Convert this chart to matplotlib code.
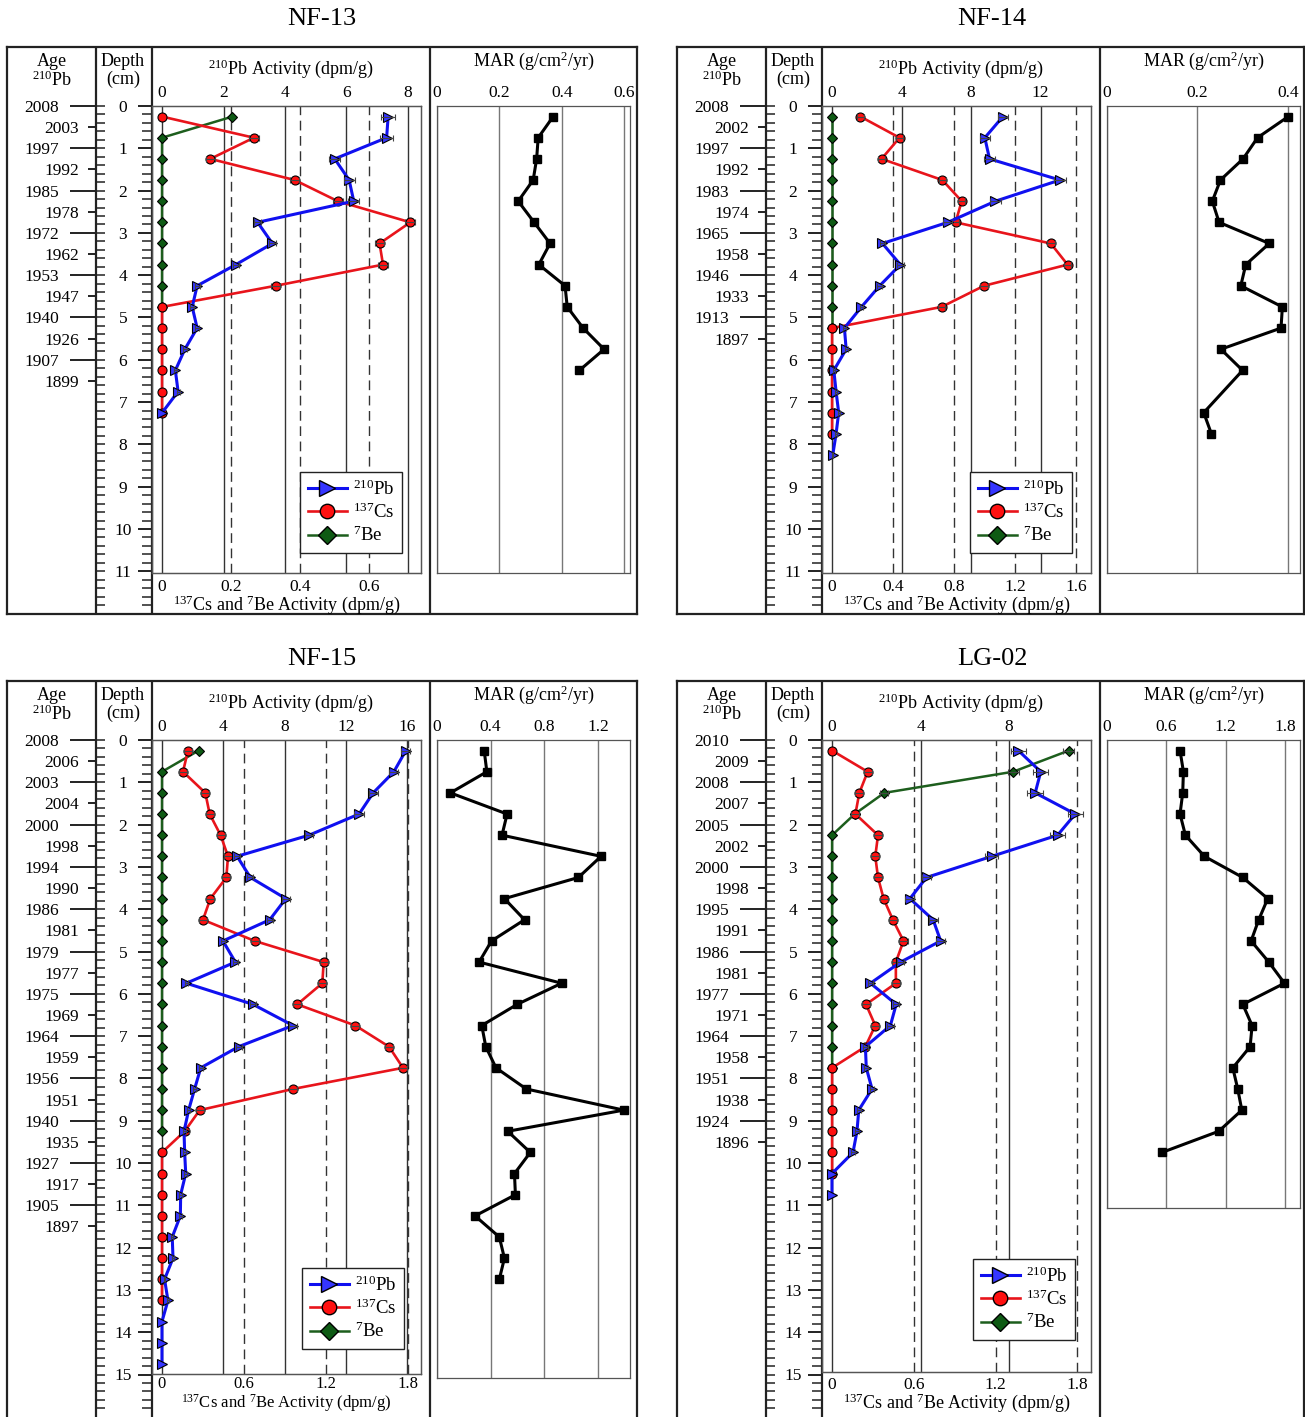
import matplotlib
matplotlib.use('Agg')
import matplotlib.pyplot as plt
from matplotlib.ticker import FixedLocator, FixedFormatter, MultipleLocator, NullFormatter
from matplotlib.lines import Line2D
from matplotlib.transforms import blended_transform_factory

plt.rcParams.update({
    'font.family': ['Liberation Serif', 'DejaVu Serif'],
    'mathtext.fontset': 'custom',
    'mathtext.rm': 'Liberation Serif',
    'mathtext.it': 'Liberation Serif:italic',
    'mathtext.bf': 'Liberation Serif:bold',
})

# ---------------------------------------------------------------- data
# NF-13
AGES_NF13 = ['2008', '2003', '1997', '1992', '1985', '1978', '1972', '1962',
             '1953', '1947', '1940', '1926', '1907', '1899']
DEPTH_NF13 = [0.25, 0.75, 1.25, 1.75, 2.25, 2.75, 3.25, 3.75, 4.25, 4.75,
              5.25, 5.75, 6.25, 6.75, 7.25]
PB_NF13 = [7.36, 7.31, 5.62, 6.09, 6.24, 3.11, 3.59, 2.40, 1.14, 0.98,
           1.14, 0.74, 0.43, 0.52, 0.00]
PB_ERR_NF13 = [0.22, 0.22, 0.18, 0.18, 0.18, 0.12, 0.12, 0.10, 0.08, 0.07,
               0.07, 0.06, 0.05, 0.05, 0.00]
CS_NF13 = [0.000, 0.266, 0.140, 0.384, 0.509, 0.719, 0.630, 0.640, 0.329, 0.000,
           0.000, 0.000, 0.000, 0.000, 0.000]
CS_ERR_NF13 = [0, 0.014, 0.014, 0.014, 0.014, 0.014, 0.014, 0.014, 0.014, 0,
               0, 0, 0, 0, 0]
DEPTH_BE_NF13 = [0.25, 0.75, 1.25, 1.75, 2.25, 2.75, 3.25, 3.75, 4.25, 4.75]
BE_NF13 = [0.204, 0, 0, 0, 0, 0, 0, 0, 0, 0]
DEPTH_MAR_NF13 = [0.25, 0.75, 1.25, 1.75, 2.25, 2.75, 3.25, 3.75, 4.25, 4.75,
                  5.25, 5.75, 6.25]
MAR_NF13 = [0.372, 0.324, 0.319, 0.308, 0.260, 0.311, 0.362, 0.326, 0.410, 0.417,
            0.468, 0.535, 0.456]

# NF-14
AGES_NF14 = ['2008', '2002', '1997', '1992', '1983', '1974', '1965', '1958',
             '1946', '1933', '1913', '1897']
DEPTH_PB_NF14 = [0.25, 0.75, 1.25, 1.75, 2.25, 2.75, 3.25, 3.75, 4.25, 4.75,
                 5.25, 5.75, 6.25, 6.75, 7.25, 7.75, 8.25]
PB_NF14 = [9.83, 8.79, 9.06, 13.11, 9.40, 6.66, 2.90, 3.93, 2.74, 1.69,
           0.71, 0.81, 0.10, 0.23, 0.38, 0.23, 0.04]
PB_ERR_NF14 = [0.30, 0.30, 0.30, 0.35, 0.30, 0.25, 0.15, 0.20, 0.15, 0.10,
               0.08, 0.08, 0.05, 0.05, 0.05, 0.05, 0.03]
DEPTH_CS_NF14 = [0.25, 0.75, 1.25, 1.75, 2.25, 2.75, 3.25, 3.75, 4.25, 4.75,
                 5.25, 5.75, 6.25, 6.75, 7.25, 7.75]
CS_NF14 = [0.186, 0.443, 0.325, 0.724, 0.851, 0.811, 1.436, 1.546, 0.998, 0.719,
           0, 0, 0, 0, 0, 0]
CS_ERR_NF14 = [0.025, 0.025, 0.025, 0.025, 0.025, 0.025, 0.025, 0.025, 0.025, 0.025,
               0, 0, 0, 0, 0, 0]
DEPTH_BE_NF14 = [0.25, 0.75, 1.25, 1.75, 2.25, 2.75, 3.25, 3.75, 4.25, 4.75, 5.25]
BE_NF14 = [0, 0, 0, 0, 0, 0, 0, 0, 0, 0, 0]
DEPTH_MAR_NF14 = [0.25, 0.75, 1.25, 1.75, 2.25, 2.75, 3.25, 3.75, 4.25, 4.75,
                  5.25, 5.75, 6.25, 7.25, 7.75]
MAR_NF14 = [0.401, 0.333, 0.301, 0.251, 0.233, 0.248, 0.359, 0.307, 0.296, 0.388,
            0.385, 0.252, 0.300, 0.214, 0.231]

# NF-15
AGES_NF15 = ['2008', '2006', '2003', '2004', '2000', '1998', '1994', '1990',
             '1986', '1981', '1979', '1977', '1975', '1969', '1964', '1959',
             '1956', '1951', '1940', '1935', '1927', '1917', '1905', '1897']
DEPTH_PB_NF15 = [0.25, 0.75, 1.25, 1.75, 2.25, 2.75, 3.25, 3.75, 4.25, 4.75,
                 5.25, 5.75, 6.25, 6.75, 7.25, 7.75, 8.25, 8.75, 9.25, 9.75,
                 10.25, 10.75, 11.25, 11.75, 12.25, 12.75, 13.25, 13.75, 14.25, 14.75]
PB_NF15 = [15.91, 15.13, 13.78, 12.86, 9.60, 4.90, 5.77, 8.08, 7.03, 3.98,
           4.79, 1.59, 5.94, 8.55, 5.00, 2.53, 2.13, 1.74, 1.44, 1.48,
           1.55, 1.22, 1.20, 0.67, 0.72, 0.17, 0.39, 0.00, 0.00, 0.00]
PB_ERR_NF15 = [0.30, 0.30, 0.30, 0.30, 0.25, 0.20, 0.20, 0.25, 0.20, 0.15,
               0.15, 0.10, 0.20, 0.25, 0.20, 0.12, 0.10, 0.10, 0.10, 0.10,
               0.10, 0.08, 0.08, 0.06, 0.06, 0.04, 0.04, 0, 0, 0]
DEPTH_CS_NF15 = [0.25, 0.75, 1.25, 1.75, 2.25, 2.75, 3.25, 3.75, 4.25, 4.75,
                 5.25, 5.75, 6.25, 6.75, 7.25, 7.75, 8.25, 8.75, 9.25, 9.75,
                 10.25, 10.75, 11.25, 11.75, 12.25, 12.75, 13.25]
CS_NF15 = [0.190, 0.154, 0.317, 0.349, 0.429, 0.483, 0.471, 0.354, 0.300, 0.678,
           1.183, 1.173, 0.990, 1.415, 1.661, 1.763, 0.959, 0.276, 0.166, 0,
           0, 0, 0, 0, 0, 0, 0]
CS_ERR_NF15 = [0.03, 0.03, 0.03, 0.03, 0.03, 0.03, 0.03, 0.03, 0.03, 0.03,
               0.03, 0.03, 0.03, 0.03, 0.03, 0.03, 0.03, 0.03, 0.03, 0,
               0, 0, 0, 0, 0, 0, 0]
DEPTH_BE_NF15 = [0.25, 0.75, 1.25, 1.75, 2.25, 2.75, 3.25, 3.75, 4.25, 4.75,
                 5.25, 5.75, 6.25, 6.75, 7.25, 7.75, 8.25, 8.75, 9.25]
BE_NF15 = [0.268, 0, 0, 0, 0, 0, 0, 0, 0, 0, 0, 0, 0, 0, 0, 0, 0, 0, 0]
DEPTH_MAR_NF15 = [0.25, 0.75, 1.25, 1.75, 2.25, 2.75, 3.25, 3.75, 4.25, 4.75,
                  5.25, 5.75, 6.25, 6.75, 7.25, 7.75, 8.25, 8.75, 9.25, 9.75,
                  10.25, 10.75, 11.25, 11.75, 12.25, 12.75]
MAR_NF15 = [0.352, 0.372, 0.100, 0.523, 0.485, 1.224, 1.055, 0.503, 0.653, 0.407,
            0.314, 0.930, 0.598, 0.334, 0.364, 0.440, 0.666, 1.394, 0.528, 0.696,
            0.578, 0.585, 0.284, 0.465, 0.503, 0.465]

# LG-02
AGES_LG02 = ['2010', '2009', '2008', '2007', '2005', '2002', '2000', '1998',
             '1995', '1991', '1986', '1981', '1977', '1971', '1964', '1958',
             '1951', '1938', '1924', '1896']
DEPTH_PB_LG02 = [0.25, 0.75, 1.25, 1.75, 2.25, 2.75, 3.25, 3.75, 4.25, 4.75,
                 5.25, 5.75, 6.25, 6.75, 7.25, 7.75, 8.25, 8.75, 9.25, 9.75,
                 10.25, 10.75]
PB_LG02 = [8.42, 9.43, 9.18, 10.99, 10.19, 7.22, 4.27, 3.52, 4.57, 4.91,
           3.10, 1.74, 2.90, 2.64, 1.51, 1.55, 1.81, 1.21, 1.13, 0.95,
           0.00, 0.00]
PB_ERR_LG02 = [0.35, 0.35, 0.35, 0.35, 0.35, 0.30, 0.20, 0.20, 0.20, 0.20,
               0.15, 0.12, 0.15, 0.15, 0.10, 0.10, 0.10, 0.08, 0.08, 0.08,
               0, 0]
DEPTH_CS_LG02 = [0.25, 0.75, 1.25, 1.75, 2.25, 2.75, 3.25, 3.75, 4.25, 4.75,
                 5.25, 5.75, 6.25, 6.75, 7.25, 7.75, 8.25, 8.75, 9.25, 9.75, 10.25]
CS_LG02 = [0.000, 0.261, 0.200, 0.171, 0.337, 0.317, 0.337, 0.378, 0.446, 0.524,
           0.468, 0.468, 0.249, 0.317, 0.244, 0, 0, 0, 0, 0, 0]
CS_ERR_LG02 = [0, 0.03, 0.03, 0.03, 0.03, 0.03, 0.03, 0.03, 0.03, 0.03,
               0.03, 0.03, 0.03, 0.03, 0.03, 0, 0, 0, 0, 0, 0]
DEPTH_BE_LG02 = [0.25, 0.75, 1.25, 1.75, 2.25, 2.75, 3.25, 3.75, 4.25, 4.75,
                 5.25, 5.75, 6.25, 6.75, 7.25, 7.75]
BE_LG02 = [1.737, 1.329, 0.383, 0.166, 0, 0, 0, 0, 0, 0, 0, 0, 0, 0, 0, 0]
BE_ERR_LG02 = [0.04, 0.04, 0.03, 0.03, 0, 0, 0, 0, 0, 0, 0, 0, 0, 0, 0, 0]
DEPTH_MAR_LG02 = [0.25, 0.75, 1.25, 1.75, 2.25, 2.75, 3.25, 3.75, 4.25, 4.75,
                  5.25, 5.75, 6.25, 6.75, 7.25, 7.75, 8.25, 8.75, 9.25, 9.75]
MAR_LG02 = [0.738, 0.772, 0.765, 0.738, 0.792, 0.984, 1.372, 1.624, 1.533, 1.456,
            1.635, 1.793, 1.372, 1.466, 1.446, 1.271, 1.321, 1.362, 1.129, 0.556]

# tick labels
TOP_TICKS_NF13 = [0, 2, 4, 6, 8]
BOT_TICKS_NF13 = [0, 0.2, 0.4, 0.6]
MAR_TICKS_NF13 = [0, 0.2, 0.4, 0.6]
TOP_TICKS_NF14 = [0, 4, 8, 12]
BOT_TICKS_NF14 = [0, 0.4, 0.8, 1.2, 1.6]
MAR_TICKS_NF14 = [0, 0.2, 0.4]
TOP_TICKS_NF15 = [0, 4, 8, 12, 16]
BOT_TICKS_NF15 = [0, 0.6, 1.2, 1.8]
MAR_TICKS_NF15 = [0, 0.4, 0.8, 1.2]
TOP_TICKS_LG02 = [0, 4, 8]
BOT_TICKS_LG02 = [0, 0.6, 1.2, 1.8]
MAR_TICKS_LG02 = [0, 0.6, 1.2, 1.8]

LEG_LABELS = [r'$\mathregular{^{210}}$Pb', r'$\mathregular{^{137}}$Cs', r'$\mathregular{^{7}}$Be']

# ---------------------------------------------------------------- styling
PB_LINE, PB_FACE = '#1010f0', '#3535ff'
CS_LINE, CS_FACE = '#e8141b', '#ff1010'
BE_LINE, BE_FACE = '#1d5e1d', '#0e5a14'
FRAME = '#222222'
W, H = 1305, 1417
PXCM = 42.3  # pixels per cm of depth

fig = plt.figure(figsize=(W / 100, H / 100), dpi=100)


def fb(x0, y0, x1, y1):
    return [x0 / W, 1 - y1 / H, (x1 - x0) / W, (y1 - y0) / H]


def fp(x, y):
    return (x / W, 1 - y / H)


def fmt(v):
    return '0' if v == 0 else ('%g' % v)


def series(axis, x, y, err, line, face, marker, ms, lw, z):
    axis.plot(x, y, color=line, lw=lw, marker=marker, ms=ms, mfc=face,
              mec='k', mew=0.8, zorder=z, clip_on=False)
    if err is not None:
        sel = [(a, b, e) for a, b, e in zip(x, y, err) if e > 0]
        if sel:
            xs, ys, es = zip(*sel)
            axis.errorbar(xs, ys, xerr=es, fmt='none', ecolor='#444',
                          elinewidth=0.8, capsize=2.2, capthick=0.8, zorder=z + 0.5)


def panel(c):
    dx, dy = c['dx'], c['dy']
    y0 = 106 + dy
    # outer frame with column dividers
    fr = fig.add_axes(fb(7 + dx, 47 + dy, c['fr_right'], c['fr_bottom']))
    fr.set_xlim(7 + dx, c['fr_right'])
    fr.set_ylim(c['fr_bottom'], 47 + dy)
    fr.set_xticks([]); fr.set_yticks([])
    fr.set_facecolor('none')
    for s in fr.spines.values():
        s.set_color(FRAME); s.set_linewidth(1.6)
    for xv in (96 + dx, 152 + dx, 430 + dx):
        fr.axvline(xv, color=FRAME, lw=1.6)
    fig.text(*fp(322 + dx, c['title_y']), c['title'], fontsize=19,
             ha='center', va='center')

    # headers
    fig.text(*fp(51.7 + dx, 61 + dy), 'Age', fontsize=13, ha='center', va='center')
    fig.text(*fp(51.7 + dx, 80 + dy), r'$\mathregular{^{210}}$Pb', fontsize=13, ha='center', va='center')
    fig.text(*fp(123 + dx, 61 + dy), 'Depth', fontsize=13, ha='center', va='center')
    fig.text(*fp(123 + dx, 79 + dy), '(cm)', fontsize=13, ha='center', va='center')
    fig.text(*fp(291 + dx, 69 + dy), r'$\mathregular{^{210}}$Pb Activity (dpm/g)',
             fontsize=13, ha='center', va='center')
    fig.text(*fp(533.5 + dx, 61 + dy), r'MAR (g/cm$\mathregular{^{2}}$/yr)',
             fontsize=13, ha='center', va='center')

    # depth / age ruler
    rb = c['ruler_bottom']
    dmax = (rb - y0) / PXCM
    pos = fb(96 + dx, y0, 152 + dx, rb)
    ages = c['ages']
    age_depth = [0.5 * i for i in range(len(ages))]
    a1 = fig.add_axes(pos)
    a2 = fig.add_axes(pos)
    a3 = fig.add_axes(pos)
    for a in (a1, a2, a3):
        a.set_ylim(dmax, 0); a.set_xlim(0, 1)
        a.set_facecolor('none'); a.set_xticks([])
        for s in a.spines.values():
            s.set_visible(False)
    a1.yaxis.set_major_locator(FixedLocator(age_depth[0::2]))
    a1.yaxis.set_major_formatter(FixedFormatter(ages[0::2]))
    a1.yaxis.set_minor_locator(FixedLocator(age_depth[1::2]))
    a1.yaxis.set_minor_formatter(FixedFormatter(ages[1::2]))
    a1.tick_params(axis='y', which='major', direction='out', length=19, width=1.4,
                   pad=7.5, labelsize=12.5, color=FRAME)
    a1.tick_params(axis='y', which='minor', direction='out', length=6, width=1.4,
                   pad=6, labelsize=12.5, color=FRAME)
    a2.yaxis.set_major_locator(MultipleLocator(0.2))
    a2.yaxis.set_major_formatter(NullFormatter())
    a2.tick_params(axis='y', which='major', direction='in', length=6.5, width=1.1, color=FRAME)
    a3.yaxis.tick_right()
    a3.yaxis.set_major_locator(MultipleLocator(1))
    a3.yaxis.set_minor_locator(MultipleLocator(0.2))
    a3.tick_params(axis='y', which='major', direction='in', length=10, width=1.4,
                   pad=-21, labelsize=12.5, color=FRAME)
    a3.tick_params(axis='y', which='minor', direction='in', length=7, width=1.1, color=FRAME)
    for lab in a3.get_yticklabels():
        lab.set_horizontalalignment('center')

    # activity axes (bottom: 137Cs/7Be, top: 210Pb)
    ab = y0 + c['act_bot'] * PXCM
    ax = fig.add_axes(fb(152 + dx, y0, 421 + dx, ab))
    ax.set_facecolor('none')
    at = ax.twiny()
    at.set_facecolor('none')
    ax.set_ylim(c['act_bot'], 0)
    ax.set_xlim(*c['bot_lim'])
    at.set_xlim(*c['top_lim'])
    ax.set_yticks([])
    ax.set_xticks(c['bot_ticks'], [fmt(v) for v in c['bot_ticks']])
    at.set_xticks(c['top_ticks'], [fmt(v) for v in c['top_ticks']])
    ax.tick_params(axis='x', length=0, pad=c['bpad'], labelsize=c['bsize'])
    at.tick_params(axis='x', length=0, pad=3.5, labelsize=12.5)
    for a in (ax, at):
        for s in a.spines.values():
            s.set_color('#555'); s.set_linewidth(0.9)
    ax.set_xlabel(r'$\mathregular{^{137}}$Cs and $\mathregular{^{7}}$Be Activity (dpm/g)',
                  fontsize=c['xlsize'], labelpad=c['xlpad'])
    tr = blended_transform_factory(at.transData, ax.transAxes)
    for v in c['top_ticks']:
        ax.plot([v, v], [0, 1], transform=tr, color='#333', lw=1.0, zorder=0.6)
    trb = blended_transform_factory(ax.transData, ax.transAxes)
    for v in c['bot_ticks'][1:]:
        ax.plot([v, v], [0, 1], transform=trb, color='#333', lw=1.0,
                ls=(0, (7, 4)), zorder=0.6)

    series(ax, c['be'], c['be_d'], c.get('be_err'), BE_LINE, BE_FACE, 'D', 5.5, 1.8, 3)
    series(ax, c['cs'], c['cs_d'], c['cs_err'], CS_LINE, CS_FACE, 'o', 6.5, 1.9, 4)
    series(at, c['pb'], c['pb_d'], c['pb_err'], PB_LINE, PB_FACE, '>', 7, 2.2, 5)
    ax.set_xlim(*c['bot_lim']); at.set_xlim(*c['top_lim']); ax.set_ylim(c['act_bot'], 0)

    handles = [Line2D([], [], color=PB_LINE, lw=2.2, marker='>', ms=7, mfc=PB_FACE, mec='k'),
               Line2D([], [], color=CS_LINE, lw=1.9, marker='o', ms=6.5, mfc=CS_FACE, mec='k'),
               Line2D([], [], color=BE_LINE, lw=1.8, marker='D', ms=5.5, mfc=BE_FACE, mec='k')]
    leg = at.legend(handles, LEG_LABELS, loc='upper left',
                    bbox_to_anchor=fp(*c['leg']), bbox_transform=fig.transFigure,
                    borderaxespad=0, fancybox=False, edgecolor=FRAME, framealpha=1,
                    fontsize=13.5, handlelength=2.1, handletextpad=0.35,
                    borderpad=0.4, labelspacing=0.2, markerscale=1.6)
    leg.get_frame().set_linewidth(1.0)
    leg.set_zorder(20)

    # MAR axes
    mb = y0 + c['mar_bot'] * PXCM
    am = fig.add_axes(fb(437 + dx, y0, 630 + dx, mb))
    am.set_facecolor('none')
    am.set_ylim(c['mar_bot'], 0)
    am.set_xlim(*c['mar_lim'])
    am.xaxis.tick_top()
    am.set_xticks(c['mar_ticks'], [fmt(v) for v in c['mar_ticks']])
    am.tick_params(axis='x', length=0, pad=3.5, labelsize=12.5)
    am.set_yticks([])
    for s in am.spines.values():
        s.set_color('#555'); s.set_linewidth(0.9)
    am.grid(axis='x', color='#777', lw=1.0)
    am.plot(c['mar'], c['mar_d'], color='k', lw=2.2, marker='s', ms=6, zorder=3)


PANELS = [
    dict(title='NF-13', dx=0, dy=0, title_y=19, fr_right=637, fr_bottom=614,
         ruler_bottom=613, act_bot=11.03, mar_bot=11.03, bpad=4.5, xlpad=-1,
         bsize=12.5, xlsize=13,
         top_lim=(-0.33, 8.43), bot_lim=(-0.029, 0.75), mar_lim=(0, 0.618),
         top_ticks=TOP_TICKS_NF13, bot_ticks=BOT_TICKS_NF13, mar_ticks=MAR_TICKS_NF13,
         ages=AGES_NF13, pb=PB_NF13, pb_d=DEPTH_NF13, pb_err=PB_ERR_NF13,
         cs=CS_NF13, cs_d=DEPTH_NF13, cs_err=CS_ERR_NF13,
         be=BE_NF13, be_d=DEPTH_BE_NF13, mar=MAR_NF13, mar_d=DEPTH_MAR_NF13,
         leg=(300, 472)),
    dict(title='NF-14', dx=670, dy=0, title_y=19, fr_right=1304, fr_bottom=614,
         ruler_bottom=613, act_bot=11.03, mar_bot=11.03, bpad=4.5, xlpad=-1,
         bsize=12.5, xlsize=13,
         top_lim=(-0.58, 14.9), bot_lim=(-0.066, 1.70), mar_lim=(0, 0.427),
         top_ticks=TOP_TICKS_NF14, bot_ticks=BOT_TICKS_NF14, mar_ticks=MAR_TICKS_NF14,
         ages=AGES_NF14, pb=PB_NF14, pb_d=DEPTH_PB_NF14, pb_err=PB_ERR_NF14,
         cs=CS_NF14, cs_d=DEPTH_CS_NF14, cs_err=CS_ERR_NF14,
         be=BE_NF14, be_d=DEPTH_BE_NF14, mar=MAR_NF14, mar_d=DEPTH_MAR_NF14,
         leg=(970, 472)),
    dict(title='NF-15', dx=0, dy=634, title_y=659, fr_right=637, fr_bottom=1440,
         ruler_bottom=1416, act_bot=14.98, mar_bot=15.08, bpad=1.5, xlpad=0,
         bsize=12, xlsize=12,
         top_lim=(-0.65, 16.9), bot_lim=(-0.073, 1.895), mar_lim=(0, 1.44),
         top_ticks=TOP_TICKS_NF15, bot_ticks=BOT_TICKS_NF15, mar_ticks=MAR_TICKS_NF15,
         ages=AGES_NF15, pb=PB_NF15, pb_d=DEPTH_PB_NF15, pb_err=PB_ERR_NF15,
         cs=CS_NF15, cs_d=DEPTH_CS_NF15, cs_err=CS_ERR_NF15,
         be=BE_NF15, be_d=DEPTH_BE_NF15, mar=MAR_NF15, mar_d=DEPTH_MAR_NF15,
         leg=(302, 1268)),
    dict(title='LG-02', dx=670, dy=634, title_y=659, fr_right=1304, fr_bottom=1440,
         ruler_bottom=1416, act_bot=14.95, mar_bot=11.07, bpad=3.5, xlpad=-1.5,
         bsize=12.5, xlsize=13,
         top_lim=(-0.45, 11.7), bot_lim=(-0.074, 1.90), mar_lim=(0, 1.95),
         top_ticks=TOP_TICKS_LG02, bot_ticks=BOT_TICKS_LG02, mar_ticks=MAR_TICKS_LG02,
         ages=AGES_LG02, pb=PB_LG02, pb_d=DEPTH_PB_LG02, pb_err=PB_ERR_LG02,
         cs=CS_LG02, cs_d=DEPTH_CS_LG02, cs_err=CS_ERR_LG02,
         be=BE_LG02, be_d=DEPTH_BE_LG02, be_err=BE_ERR_LG02,
         mar=MAR_LG02, mar_d=DEPTH_MAR_LG02, leg=(973, 1259)),
]

for cfg in PANELS:
    panel(cfg)

fig.savefig('out.png', dpi=100)
